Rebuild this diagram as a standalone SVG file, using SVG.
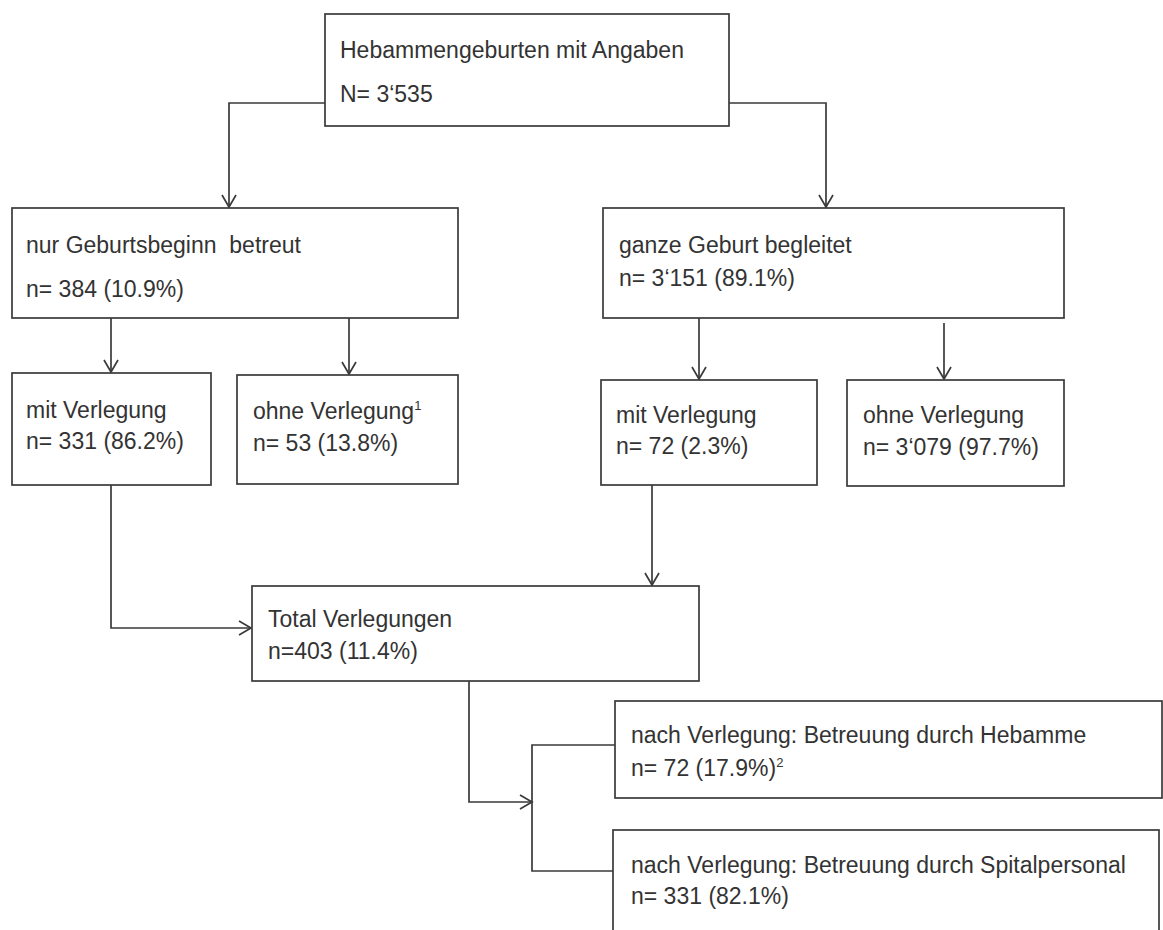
<svg xmlns="http://www.w3.org/2000/svg" width="1163" height="930" viewBox="0 0 1163 930">
  <style>
    .box { fill: #ffffff; stroke: #3a3a3a; stroke-width: 1.7; }
    .lbl { font-family: "Liberation Sans", Arial, sans-serif; font-size: 23px; fill: #333333; }
    .sup { font-size: 13px; }
    .conn { fill: none; stroke: #3a3a3a; stroke-width: 1.7; }
  </style>
  <defs>
    <marker id="arrow" markerUnits="userSpaceOnUse" markerWidth="16" markerHeight="18" refX="13" refY="8" orient="auto">
      <path d="M1,1 L13,8 L1,15" fill="none" stroke="#3a3a3a" stroke-width="1.7"/>
    </marker>
  </defs>
  <rect width="1163" height="930" fill="#ffffff"/>

  <g id="connectors">
    <path class="conn" d="M325,103 H229 V207" marker-end="url(#arrow)"/>
    <path class="conn" d="M729,103 H826 V207" marker-end="url(#arrow)"/>
    <path class="conn" d="M111,318 V372" marker-end="url(#arrow)"/>
    <path class="conn" d="M349,318 V374" marker-end="url(#arrow)"/>
    <path class="conn" d="M699,318 V379" marker-end="url(#arrow)"/>
    <path class="conn" d="M944,323 V379" marker-end="url(#arrow)"/>
    <path class="conn" d="M111,485 V628 H251" marker-end="url(#arrow)"/>
    <path class="conn" d="M652,482 V585" marker-end="url(#arrow)"/>
    <path class="conn" d="M469,681 V802 H532" marker-end="url(#arrow)"/>
    <path class="conn" d="M615,745 H532 V871 H613"/>
  </g>

  <g id="node-root">
    <rect class="box" x="325" y="14" width="404" height="112"/>
    <text class="lbl" x="340" y="58">Hebammengeburten mit Angaben</text>
    <text class="lbl" x="340" y="102">N= 3‘535</text>
  </g>

  <g id="node-geburtsbeginn">
    <rect class="box" x="12" y="208" width="446" height="110"/>
    <text class="lbl" x="26" y="253" xml:space="preserve">nur Geburtsbeginn  betreut</text>
    <text class="lbl" x="26" y="297">n= 384 (10.9%)</text>
  </g>

  <g id="node-ganze-geburt">
    <rect class="box" x="603" y="208" width="461" height="110"/>
    <text class="lbl" x="619" y="253">ganze Geburt begleitet</text>
    <text class="lbl" x="619" y="286">n= 3‘151 (89.1%)</text>
  </g>

  <g id="node-mit-verlegung-1">
    <rect class="box" x="12" y="373" width="199" height="112"/>
    <text class="lbl" x="26" y="418">mit Verlegung</text>
    <text class="lbl" x="26" y="449">n= 331 (86.2%)</text>
  </g>

  <g id="node-ohne-verlegung-1">
    <rect class="box" x="237" y="375" width="221" height="109"/>
    <text class="lbl" x="253" y="419">ohne Verlegung<tspan class="sup" dy="-9">1</tspan></text>
    <text class="lbl" x="253" y="451">n= 53 (13.8%)</text>
  </g>

  <g id="node-mit-verlegung-2">
    <rect class="box" x="601" y="380" width="216" height="105"/>
    <text class="lbl" x="616" y="423">mit Verlegung</text>
    <text class="lbl" x="616" y="454">n= 72 (2.3%)</text>
  </g>

  <g id="node-ohne-verlegung-2">
    <rect class="box" x="847" y="380" width="217" height="106"/>
    <text class="lbl" x="863" y="423">ohne Verlegung</text>
    <text class="lbl" x="863" y="455">n= 3‘079 (97.7%)</text>
  </g>

  <g id="node-total">
    <rect class="box" x="252" y="586" width="447" height="95"/>
    <text class="lbl" x="268" y="627">Total Verlegungen</text>
    <text class="lbl" x="268" y="659">n=403 (11.4%)</text>
  </g>

  <g id="node-hebamme">
    <rect class="box" x="615" y="701" width="547" height="97"/>
    <text class="lbl" x="631" y="743">nach Verlegung: Betreuung durch Hebamme</text>
    <text class="lbl" x="631" y="776">n= 72 (17.9%)<tspan class="sup" dy="-9">2</tspan></text>
  </g>

  <g id="node-spitalpersonal">
    <rect class="box" x="613" y="830" width="546" height="120"/>
    <text class="lbl" x="631" y="873">nach Verlegung: Betreuung durch Spitalpersonal</text>
    <text class="lbl" x="631" y="904">n= 331 (82.1%)</text>
  </g>
</svg>
